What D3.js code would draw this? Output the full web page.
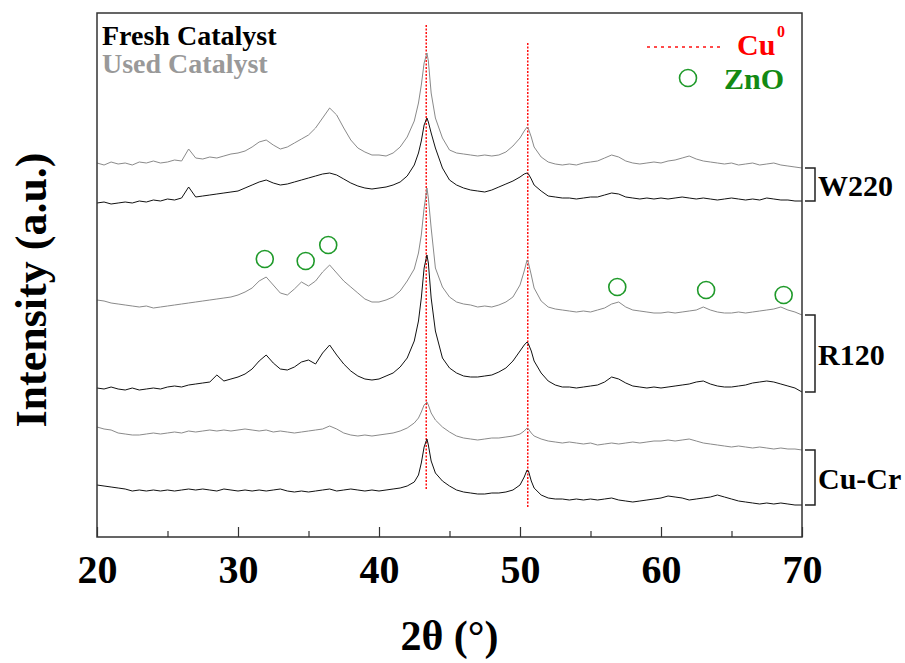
<!DOCTYPE html>
<html>
<head>
<meta charset="utf-8">
<script src="https://cdn.jsdelivr.net/npm/d3@7"></script>
<style>
  body { margin: 0; background: #fff; }
  text { font-family: "Liberation Serif", "Times New Roman", serif; font-weight: bold; }
</style>
</head>
<body>
<svg></svg>
<script>
(function () {
    "use strict";

    // 2-theta grid, denser round the Cu peaks
    var twoTheta = [
        20, 20.5, 21, 21.5, 22, 22.5, 23, 23.5, 24, 24.5,
        25, 25.5, 26, 26.5, 27, 27.5, 28, 28.5, 29, 29.5,
        30, 30.5, 31, 31.5, 32, 32.5, 33, 33.5, 34, 34.5,
        35, 35.5, 36, 36.5, 37, 37.5, 38, 38.5, 39, 39.5,
        40, 40.5, 41, 41.5, 42, 42.5, 42.8, 43, 43.2, 43.4,
        43.5, 43.7, 44, 44.5, 45, 45.5, 46, 46.5, 47, 47.5,
        48, 48.5, 49, 49.5, 50, 50.3, 50.5, 50.6, 50.8, 51,
        51.5, 52, 52.5, 53, 53.5, 54, 54.5, 55, 55.5, 56,
        56.5, 57, 57.5, 58, 58.5, 59, 59.5, 60, 60.5, 61,
        61.5, 62, 62.5, 63, 63.5, 64, 64.5, 65, 65.5, 66,
        66.5, 67, 67.5, 68, 68.5, 69, 69.5, 70
    ];

    // intensities (a.u., already stacked)
    var w220Used = [
        350, 348, 351, 349, 350, 348, 351, 350, 352, 350,
        351, 353, 352, 364, 355, 354, 356, 355, 357, 359,
        360, 362, 366, 371, 373, 368, 364, 366, 370, 374,
        378, 385, 395, 405, 398, 385, 373, 365, 361, 358,
        358, 357, 360, 366, 376, 392, 410, 428, 450, 460,
        452, 420, 395, 375, 363, 360, 359, 358, 357, 358,
        357, 358, 361, 367, 375, 382, 386, 384, 376, 366,
        356, 351, 349, 348, 349, 348, 350, 351, 352, 355,
        358, 356, 352, 350, 349, 350, 351, 350, 352, 353,
        355, 357, 354, 352, 351, 350, 349, 350, 348, 349,
        350, 348, 349, 350, 348, 347, 346, 345
    ];
    var w220Fresh = [
        310, 311, 309, 310, 311, 310, 312, 311, 313, 312,
        314, 313, 315, 326, 316, 317, 318, 319, 320, 321,
        322, 325, 328, 331, 333, 330, 328, 329, 331, 333,
        335, 337, 339, 340, 338, 334, 330, 327, 325, 324,
        325, 326, 328, 331, 337, 348, 360, 372, 388, 395,
        391, 380, 365, 345, 333, 328, 325, 323, 322, 321,
        323, 326, 329, 332, 336, 339, 340, 339, 334, 328,
        322, 317, 316, 315, 315, 314, 315, 316, 316, 318,
        320, 319, 316, 315, 314, 315, 314, 315, 314, 315,
        316, 315, 314, 315, 314, 313, 314, 315, 314, 313,
        314, 313, 315, 314, 313, 313, 312, 312
    ];
    var r120Used = [
        213, 212, 210, 209, 208, 207, 206, 207, 205, 206,
        207, 208, 209, 210, 211, 212, 213, 214, 215, 216,
        218, 221, 225, 232, 236, 228, 220, 218, 224, 231,
        227, 232, 241, 248, 240, 232, 226, 220, 214, 211,
        211, 213, 216, 222, 232, 244, 260, 278, 305, 325,
        315, 285, 245, 226, 216, 211, 209, 208, 206, 207,
        206, 208, 211, 216, 228, 242, 253, 250, 238, 225,
        212, 206, 204, 203, 202, 201, 202, 201, 203, 205,
        209, 211, 206, 203, 202, 201, 200, 200, 201, 200,
        201, 202, 203, 206, 203, 201, 200, 200, 201, 200,
        201, 202, 203, 204, 206, 203, 201, 198
    ];
    var r120Fresh = [
        125, 124, 126, 124, 123, 125, 123, 124, 125, 124,
        126, 127, 126, 128, 129, 130, 131, 138, 132, 134,
        136, 139, 144, 152, 158, 150, 144, 143, 146, 151,
        153, 149, 160, 168, 158, 149, 142, 137, 134, 133,
        134, 137, 140, 146, 155, 172, 192, 215, 245, 258,
        250, 215, 182, 155, 145, 140, 137, 136, 136, 137,
        138, 141, 145, 152, 162, 168, 171, 169, 162, 152,
        140, 132, 128, 126, 126, 125, 126, 127, 128, 131,
        136, 134, 130, 127, 126, 125, 126, 125, 126, 127,
        128, 129, 131, 132, 129, 127, 126, 126, 127, 128,
        130, 131, 132, 131, 129, 127, 125, 121
    ];
    var cucrUsed = [
        86, 84, 83, 80, 79, 78, 78, 79, 80, 79,
        80, 81, 80, 82, 81, 82, 83, 82, 83, 82,
        83, 84, 83, 82, 83, 81, 82, 81, 80, 81,
        82, 83, 84, 87, 84, 80, 78, 77, 78, 77,
        78, 79, 80, 82, 85, 90, 95, 101, 108, 111,
        108, 100, 93, 86, 81, 77, 75, 74, 73, 74,
        75, 75, 76, 77, 79, 82, 85, 84, 80, 77,
        74, 72, 71, 70, 71, 70, 69, 70, 68, 69,
        70, 69, 70, 71, 70, 71, 72, 72, 73, 72,
        73, 74, 72, 70, 69, 68, 67, 66, 67, 66,
        65, 66, 65, 64, 65, 64, 64, 63
    ];
    var cucrFresh = [
        28, 27, 26, 25, 24, 22, 23, 22, 23, 22,
        23, 22, 23, 24, 23, 24, 23, 22, 24, 23,
        22, 23, 22, 23, 22, 23, 24, 22, 21, 22,
        21, 22, 23, 24, 22, 23, 24, 23, 22, 23,
        22, 23, 24, 25, 27, 31, 38, 50, 66, 74,
        68, 52, 40, 32, 27, 23, 21, 20, 19, 19,
        20, 20, 21, 23, 28, 36, 43, 42, 32, 25,
        18, 15, 14, 14, 13, 14, 13, 14, 13, 14,
        15, 13, 12, 11, 12, 13, 14, 15, 17, 16,
        15, 13, 14, 15, 16, 18, 16, 14, 12, 11,
        10, 9, 10, 9, 10, 9, 8, 8
    ];

    var samples = ["W220", "R120", "Cu-Cr"];
    var usedSeries = [w220Used, r120Used, cucrUsed];
    var freshSeries = [w220Fresh, r120Fresh, cucrFresh];

    // ZnO reflections marked with circles
    var znoX = [31.9, 34.8, 36.4, 56.9, 63.2, 68.7];
    var znoY = [254, 252, 268, 226, 223, 218];

    // Cu0 reference lines
    var cuPos = [43.35, 50.55];
    var cuTop = [488, 470];
    var cuBottom = [23, 6];

    var majorTicks = [20, 30, 40, 50, 60, 70];
    var minorTicks = [25, 35, 45, 55, 65];

    var svgWidth = 905, svgHeight = 663;
    var left = 97, right = 802, top = 13, bottom = 537;

    var svg = d3.select("svg")
        .attr("width", svgWidth)
        .attr("height", svgHeight);

    svg.append("rect")
        .attr("width", "100%")
        .attr("height", "100%")
        .attr("fill", "white");

    var x = d3.scaleLinear().domain([20, 70]).range([left, right]);
    var y = d3.scaleLinear().domain([-24, 500]).range([bottom, top]);

    var line = d3.line()
        .x(function (d, i) { return x(twoTheta[i]); })
        .y(function (d) { return y(d); });

    // Cu0 dotted lines (behind the curves)
    svg.selectAll(".cu")
        .data(cuPos)
        .enter().append("line")
        .attr("x1", function (d) { return x(d); })
        .attr("x2", function (d) { return x(d); })
        .attr("y1", function (d, i) { return y(cuTop[i]); })
        .attr("y2", function (d, i) { return y(cuBottom[i]); })
        .attr("stroke", "#ff1010")
        .attr("stroke-width", 1.5)
        .attr("stroke-dasharray", "2,1.5");

    // patterns
    usedSeries.forEach(function (s) {
        svg.append("path")
            .datum(s)
            .attr("fill", "none")
            .attr("stroke", "#8a8a8a")
            .attr("stroke-width", 1)
            .attr("stroke-linejoin", "round")
            .attr("d", line);
    });
    freshSeries.forEach(function (s) {
        svg.append("path")
            .datum(s)
            .attr("fill", "none")
            .attr("stroke", "#111")
            .attr("stroke-width", 1)
            .attr("stroke-linejoin", "round")
            .attr("d", line);
    });

    // ZnO markers
    svg.selectAll(".zno")
        .data(znoX)
        .enter().append("circle")
        .attr("cx", function (d) { return x(d); })
        .attr("cy", function (d, i) { return y(znoY[i]); })
        .attr("r", 8.5)
        .attr("fill", "none")
        .attr("stroke", "#1f9a2a")
        .attr("stroke-width", 1.6);

    // frame
    svg.append("rect")
        .attr("x", left)
        .attr("y", top)
        .attr("width", right - left)
        .attr("height", bottom - top)
        .attr("fill", "none")
        .attr("stroke", "#333")
        .attr("stroke-width", 1.5);

    // x axis, ticks pointing inside
    var xAxis = svg.append("g")
        .attr("transform", "translate(0," + bottom + ")")
        .call(d3.axisBottom(x).tickValues(majorTicks).tickSizeInner(-10).tickSizeOuter(0).tickPadding(18));
    xAxis.select(".domain").remove();
    xAxis.selectAll("line").attr("stroke", "#333").attr("stroke-width", 1.2);
    xAxis.selectAll("text")
        .attr("font-family", "Liberation Serif")
        .attr("font-weight", "bold")
        .attr("font-size", 40)
        .attr("fill", "#000");

    var xMinor = svg.append("g")
        .attr("transform", "translate(0," + bottom + ")")
        .call(d3.axisBottom(x).tickValues(minorTicks).tickSizeInner(-6).tickSizeOuter(0).tickFormat(""));
    xMinor.select(".domain").remove();
    xMinor.selectAll("line").attr("stroke", "#333").attr("stroke-width", 1.2);

    // axis titles
    svg.append("text")
        .attr("x", (left + right) / 2)
        .attr("y", 650)
        .attr("text-anchor", "middle")
        .attr("font-size", 42)
        .text("2\u03b8 (\u00b0)");

    svg.append("text")
        .attr("transform", "translate(46,290) rotate(-90)")
        .attr("text-anchor", "middle")
        .attr("font-size", 44)
        .text("Intensity (a.u.)");

    // sample brackets on the right
    var last = twoTheta.length - 1;
    samples.forEach(function (name, i) {
        var yTop = y(usedSeries[i][last]);
        var yBot = y(freshSeries[i][last]);
        svg.append("path")
            .attr("d", "M805," + yTop + "H815V" + yBot + "H805")
            .attr("fill", "none")
            .attr("stroke", "#222")
            .attr("stroke-width", 1.5);
        svg.append("text")
            .attr("x", 818)
            .attr("y", (yTop + yBot) / 2 + 11)
            .attr("font-size", 30)
            .attr("fill", "#000")
            .text(name);
    });

    // legends
    svg.append("text")
        .attr("x", 102).attr("y", 45)
        .attr("font-size", 28)
        .attr("fill", "#000")
        .text("Fresh Catalyst");
    svg.append("text")
        .attr("x", 102).attr("y", 73)
        .attr("font-size", 28)
        .attr("fill", "#999")
        .text("Used Catalyst");

    svg.append("line")
        .attr("x1", 647).attr("x2", 720)
        .attr("y1", 47).attr("y2", 47)
        .attr("stroke", "#ff1010")
        .attr("stroke-width", 1.5)
        .attr("stroke-dasharray", "3,4");
    svg.append("text")
        .attr("x", 737).attr("y", 55)
        .attr("font-size", 30)
        .attr("fill", "#ff0000")
        .text("Cu");
    svg.append("text")
        .attr("x", 777).attr("y", 37)
        .attr("font-size", 16)
        .attr("fill", "#ff0000")
        .text("0");

    svg.append("circle")
        .attr("cx", 688).attr("cy", 78)
        .attr("r", 8.5)
        .attr("fill", "none")
        .attr("stroke", "#1f9a2a")
        .attr("stroke-width", 1.6);
    svg.append("text")
        .attr("x", 724).attr("y", 89)
        .attr("font-size", 30)
        .attr("fill", "#138a13")
        .text("ZnO");
})();
</script>
</body>
</html>
